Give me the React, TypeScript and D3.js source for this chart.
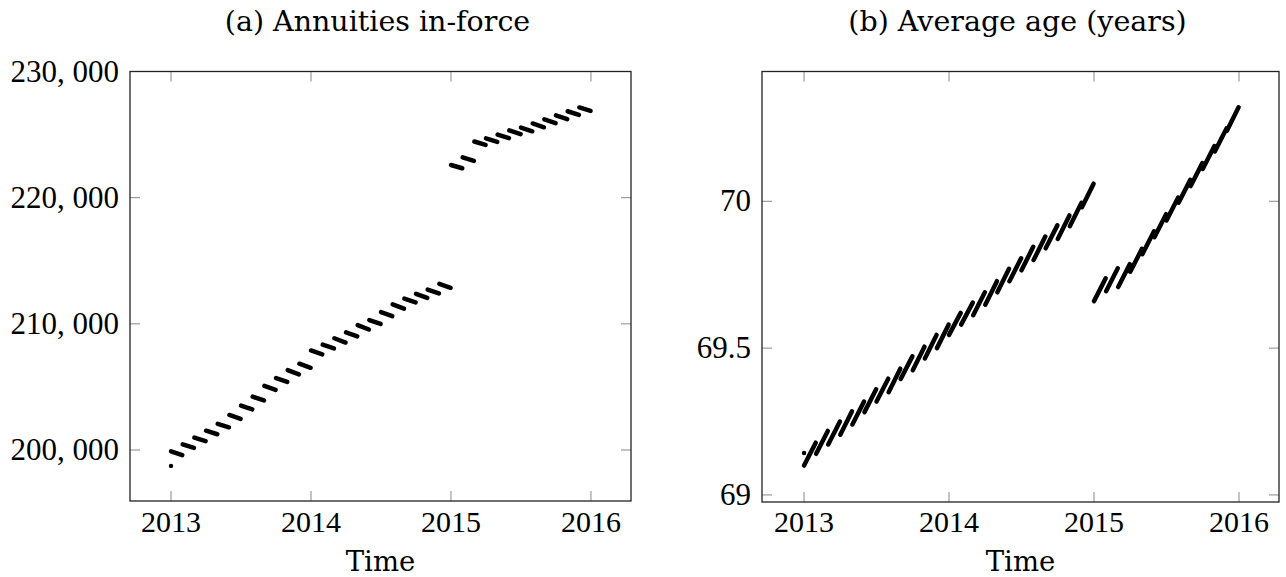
import * as d3 from "d3"

// months of the observation period (year, month)
const monthYears = [
  2013, 2013, 2013, 2013, 2013, 2013, 2013, 2013, 2013, 2013, 2013, 2013,
  2014, 2014, 2014, 2014, 2014, 2014, 2014, 2014, 2014, 2014, 2014, 2014,
  2015, 2015, 2015, 2015, 2015, 2015, 2015, 2015, 2015, 2015, 2015, 2015,
]
const monthNums = [
  1, 2, 3, 4, 5, 6, 7, 8, 9, 10, 11, 12,
  1, 2, 3, 4, 5, 6, 7, 8, 9, 10, 11, 12,
  1, 2, 3, 4, 5, 6, 7, 8, 9, 10, 11, 12,
]

// (a) annuities in-force: value on the first and on the last day of each month
const annuitiesFirst = [
  199900, 200450, 200980, 201530, 202070, 202780, 203520, 204230, 205080, 205700, 206340, 206840,
  207890, 208350, 208860, 209320, 209900, 210300, 210930, 211540, 212000, 212380, 212720, 213170,
  222590, 223200, 224450, 224700, 225000, 225330, 225560, 225880, 226210, 226520, 226850, 227150,
]
const annuitiesLast = [
  199600, 200170, 200700, 201250, 201800, 202470, 203220, 203930, 204770, 205400, 206000, 206520,
  207580, 208050, 208520, 209010, 209550, 209990, 210610, 211200, 211700, 212060, 212420, 212860,
  222330, 222920, 224180, 224420, 224720, 225040, 225260, 225580, 225900, 226230, 226560, 226880,
]
const annuitiesOpening = 198740

// (b) average age in years: first and last day of each month
const ageFirst = [
  69.100, 69.140, 69.172, 69.205, 69.240, 69.282, 69.318, 69.350, 69.395, 69.425, 69.465, 69.500,
  69.545, 69.580, 69.612, 69.648, 69.690, 69.728, 69.765, 69.800, 69.840, 69.872, 69.915, 69.980,
  69.660, 69.694, 69.708, 69.760, 69.820, 69.878, 69.935, 69.995, 70.052, 70.110, 70.170, 70.240,
]
const ageLast = [
  69.178, 69.218, 69.250, 69.285, 69.318, 69.360, 69.396, 69.430, 69.472, 69.505, 69.545, 69.580,
  69.620, 69.655, 69.690, 69.728, 69.770, 69.806, 69.845, 69.880, 69.918, 69.952, 69.995, 70.060,
  69.738, 69.772, 69.786, 69.838, 69.898, 69.956, 70.013, 70.073, 70.130, 70.188, 70.248, 70.320,
]
const ageOpening = 69.143

const yearTicks = [2013, 2014, 2015, 2016]
const annuityTicks = [200000, 210000, 220000, 230000]
const ageTicks = [69, 69.5, 70]

const NUM_FONT = "'Liberation Serif', serif"
const WORD_FONT = "'DejaVu Serif', serif"

type PanelProps = {
  title: string
  left: number
  right: number
  top: number
  bottom: number
  xDomain: [number, number]
  yDomain: [number, number]
  first: number[]
  last: number[]
  opening: number
  yTicks: number[]
  yFmt: (v: number) => string
}

function Panel({ title, left, right, top, bottom, xDomain, yDomain, first, last, opening, yTicks, yFmt }: PanelProps) {
  const x = d3.scaleLinear().domain(xDomain).range([left, right])
  const y = d3.scaleLinear().domain(yDomain).range([bottom, top])
  const tl = 10
  const line = d3.line<[number, number]>().x(d => x(d[0])).y(d => y(d[1]))
  const cx = (left + right) / 2
  return (
    <g>
      <text x={cx - 3} y={31} textAnchor="middle" fontSize={28.5} fontFamily={WORD_FONT}>{title}</text>
      {monthYears.map((yr, i) => {
        const t0 = yr + (monthNums[i] - 1) / 12
        const t1 = yr + monthNums[i] / 12 - 1 / 365
        return (
          <path key={i} d={line([[t0, first[i]], [t1, last[i]]]) || ""}
            stroke="#000" strokeWidth={4.5} strokeLinecap="round" fill="none" />
        )
      })}
      <circle cx={x(yearTicks[0])} cy={y(opening)} r={2.2} fill="#000" />
      {yearTicks.map(t => (
        <g key={t}>
          <line x1={x(t)} x2={x(t)} y1={bottom} y2={bottom - tl} stroke="#888" strokeWidth={1} />
          <line x1={x(t)} x2={x(t)} y1={top} y2={top + tl} stroke="#888" strokeWidth={1} />
          <text x={x(t)} y={532} textAnchor="middle" fontSize={30} fontFamily={NUM_FONT}>{t}</text>
        </g>
      ))}
      {yTicks.map(t => (
        <g key={t}>
          <line x1={left} x2={left + tl} y1={y(t)} y2={y(t)} stroke="#888" strokeWidth={1} />
          <line x1={right} x2={right - tl} y1={y(t)} y2={y(t)} stroke="#888" strokeWidth={1} />
          <text x={left - 11} y={y(t) + 10} textAnchor="end" fontSize={31} fontFamily={NUM_FONT}>{yFmt(t)}</text>
        </g>
      ))}
      <rect x={left} y={top} width={right - left} height={bottom - top} fill="none" stroke="#222" strokeWidth={1.3} />
      <text x={cx} y={571} textAnchor="middle" fontSize={27.5} fontFamily={WORD_FONT}>Time</text>
    </g>
  )
}

export default function App() {
  const fmtCount = (v: number) => d3.format(",")(v).replace(",", ", ")
  const fmtAge = (v: number) => String(v)
  return (
    <svg width={1286} height={577} style={{ position: "absolute", left: 0, top: 0, background: "#fff" }}>
      <Panel title="(a) Annuities in-force" left={130} right={631} top={71.5} bottom={501}
        xDomain={[2012.707, 2016.286]} yDomain={[195960, 230000]}
        first={annuitiesFirst} last={annuitiesLast} opening={annuitiesOpening}
        yTicks={annuityTicks} yFmt={fmtCount} />
      <Panel title="(b) Average age (years)" left={762} right={1279} top={71.5} bottom={502}
        xDomain={[2012.71, 2016.276]} yDomain={[68.976, 70.442]}
        first={ageFirst} last={ageLast} opening={ageOpening}
        yTicks={ageTicks} yFmt={fmtAge} />
    </svg>
  )
}
